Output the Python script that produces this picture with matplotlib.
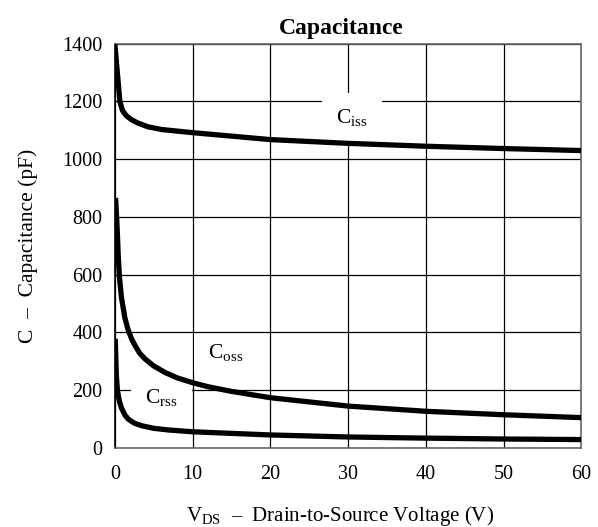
import matplotlib.pyplot as plt

plt.rcParams['font.family'] = ['Liberation Serif', 'DejaVu Serif']
plt.rcParams['mathtext.fontset'] = 'custom'
plt.rcParams['mathtext.rm'] = 'Liberation Serif'

# drain-source voltage (V) and capacitances (pF)
vds_iss = [0, 0.65, 1.0, 1.5, 2.2, 3, 4.3, 6, 10, 20, 30, 40, 50, 60]
ciss = [1400, 1200, 1168, 1150, 1136, 1125, 1112, 1103, 1092, 1068, 1055, 1045, 1037, 1030]

vds_oss = [0.1, 0.3, 0.45, 0.6, 0.86, 1.3, 1.7, 2.2, 2.6, 3.2, 3.9, 5, 6.5, 8, 10, 12, 15, 20,
           30, 40, 50, 60]
coss = [866, 760, 660, 590, 520, 450, 410, 375, 355, 328, 308, 284, 261, 243, 226, 212, 196, 174,
        145, 127, 115, 105]

vds_rss = [0.05, 0.2, 0.34, 0.6, 0.86, 1.3, 1.72, 2.5, 3.45, 5, 7, 10, 20, 30, 40, 50, 60]
crss = [378, 250, 198, 160, 138, 114, 100, 86, 77, 68, 62, 56, 45, 38, 34, 31, 29]

xticks = [0, 10, 20, 30, 40, 50, 60]
yticks = [0, 200, 400, 600, 800, 1000, 1200, 1400]

fig = plt.figure(figsize=(5.98, 5.27), dpi=100)
ax = fig.add_axes([0.192, 0.150, 0.780, 0.767])

for v, c in [(vds_iss, ciss), (vds_oss, coss), (vds_rss, crss)]:
    ax.plot(v, c, color='black', lw=3.8, zorder=5, solid_capstyle='butt',
            solid_joinstyle='round')

# curve labels sit on white boxes that hide the grid
ax.text(30.5, 1142, r'C$_{\rm iss}$', fontsize=15.5, ha='center', va='center', zorder=3,
        bbox=dict(facecolor='white', edgecolor='none', pad=10))
ax.text(14.0, 328, r' C$_{\rm oss}$ ', fontsize=15.5, ha='center', va='center', zorder=3,
        bbox=dict(facecolor='white', edgecolor='none', pad=6))
ax.text(6.0, 172, r'C$_{\rm rss}$', fontsize=15.5, ha='center', va='center', zorder=3,
        bbox=dict(facecolor='white', edgecolor='none', pad=10))

ax.set_xlim(0, 60)
ax.set_ylim(0, 1400)
ax.set_xticks(xticks)
ax.set_yticks(yticks)
ax.grid(True, color='black', lw=0.9, zorder=1)
ax.set_axisbelow(True)
ax.tick_params(length=0, labelsize=14.5)
ax.tick_params(axis='x', pad=12)
ax.tick_params(axis='y', pad=9)
for s in ax.spines.values():
    s.set_color('#666666')
    s.set_linewidth(1.2)
ax.spines['left'].set_color('black')

ax.set_title('Capacitance', fontsize=17, fontweight='bold', pad=7, x=0.485)
ax.set_xlabel(r'V$_{\rm DS}$  –  Drain-to-Source Voltage (V)', fontsize=15, labelpad=15, x=0.483)
ax.set_ylabel('C  –  Capacitance (pF)', fontsize=15.5, labelpad=17)

fig.savefig('out.png', dpi=100)
